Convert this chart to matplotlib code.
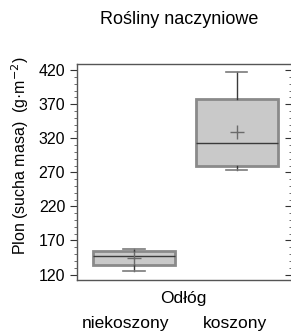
import matplotlib
matplotlib.use("Agg")
import matplotlib.pyplot as plt
import matplotlib.transforms as mtransforms
from matplotlib.ticker import MultipleLocator

plt.rcParams['font.family'] = ['Liberation Sans', 'DejaVu Sans']

#--- Data
categories = ['niekoszony', 'koszony']
whisker_low = [125.4, 272.8]
q1 = [133.8, 279.0]
median = [146.5, 312.4]
q3 = [154.3, 377.4]
whisker_high = [157.3, 417.5]
means = [143.6, 329.5]
yticks = [120, 170, 220, 270, 320, 370, 420]

stats = []
for i, name in enumerate(categories):
    stats.append({'label': name, 'whislo': whisker_low[i], 'q1': q1[i],
                  'med': median[i], 'q3': q3[i], 'whishi': whisker_high[i],
                  'mean': means[i], 'fliers': []})

W, H = 291, 333
fig = plt.figure(figsize=(W / 100, H / 100), dpi=100)
# axes from x=77 to x=292 px (right spine just off the image), y=64..280 px
ax = fig.add_axes([77 / W, 1 - 280 / H, (292 - 77) / W, (280 - 64) / H])

positions = [1, 2]
ax.bxp(stats, positions=positions, widths=0.8, patch_artist=True, showmeans=True,
       boxprops=dict(facecolor='#c9c9c9', edgecolor='#8a8a8a', linewidth=2.0),
       medianprops=dict(color='#3a3a3a', linewidth=1.0),
       whiskerprops=dict(color='#3a3a3a', linewidth=1.0),
       capprops=dict(color='#7a7a7a', linewidth=1.2),
       meanprops=dict(marker='+', markeredgecolor='#6a6a6a', markersize=10, markeredgewidth=1.0),
       capwidths=0.21)

ax.set_xlim(0.444, 2.54)
ax.set_ylim(112, 429)
ax.set_yticks(yticks)
ax.yaxis.set_minor_locator(MultipleLocator(10))
ax.tick_params(axis='y', which='major', direction='out', length=5, labelsize=11.5,
               colors='#333333', labelcolor='black')
ax.tick_params(axis='y', which='minor', direction='out', length=2.5, colors='#555555')
ax.tick_params(axis='y', which='both', right=True)
ax.tick_params(axis='x', bottom=False, labelbottom=False)
for s in ax.spines.values():
    s.set_color('#555555')
    s.set_linewidth(1.0)

# right-hand ticks point inward
for t in ax.yaxis.get_major_ticks() + ax.yaxis.get_minor_ticks():
    t.tick2line.set_marker(matplotlib.lines.TICKLEFT)

fig.text(20 / W, 1 - 156 / H, 'Plon (sucha masa)  (g·m$^{-2}$)', rotation=90,
         ha='center', va='center', fontsize=11.5)
fig.text(179 / W, 1 - 19 / H, 'Rośliny naczyniowe', ha='center', va='center', fontsize=13)

# axis label above the category names
trans = mtransforms.blended_transform_factory(ax.transData, ax.transAxes)
ax.text(183 / W, 1 - 298 / H, 'Odłóg', transform=fig.transFigure, ha='center', va='center', fontsize=12.5)
for p, name in zip(positions, categories):
    ax.text(p - 0.08 if p == 1 else p - 0.02, -0.2, name, transform=trans,
            ha='center', va='center', fontsize=12.5)

plt.savefig('out.png', dpi=100)
plt.close()
